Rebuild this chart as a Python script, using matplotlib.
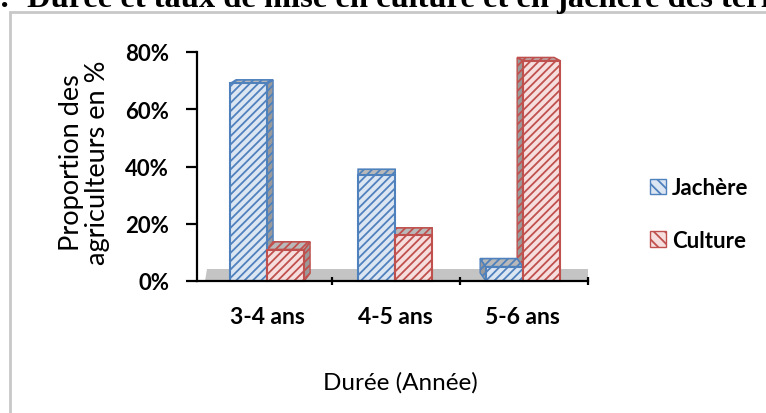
"""
plot.py — Durée de mise en culture / jachère (pseudo-3D clustered columns)
"""

import matplotlib.pyplot as plt
from matplotlib.patches import Polygon, Patch, Rectangle
import matplotlib.ticker as mticker

# ── data ─────────────────────────────────────────────────────────────────────
categories = ["3-4 ans", "4-5 ans", "5-6 ans"]
series_names = ["Jachère", "Culture"]
jachere = [69, 37, 5]
culture = [11, 16, 77]

# ── style constants ──────────────────────────────────────────────────────────
BLUE_EDGE = "#4F81BD"
BLUE_FACE = "#DCE6F2"
RED_EDGE = "#C0504D"
RED_FACE = "#F5DEDD"
FLOOR = "#C4C4C4"
SIDE = "#9A9A9A"
FONT = "Lato"

plt.rcParams.update({
    "font.family": [FONT, "DejaVu Sans"],
    "hatch.linewidth": 1.3,
})

W, H = 766, 414
fig = plt.figure(figsize=(W / 100, H / 100), dpi=100)

# title (cut off at top of the image, as in the source)
title_kw = dict(family="Liberation Serif", fontweight="bold", fontsize=23.4, va="baseline")
fig.text(10 / W, 1 - 7 / H, "Figure 1 :", ha="right", **title_kw)
fig.text(27 / W, 1 - 7 / H, "Durée et taux de mise en culture et en jachère des terres",
         ha="left", **title_kw)

# chart frame
fig.add_artist(Rectangle((10 / W, -0.05), 1.0, 1 - 13 / H + 0.05,
                         transform=fig.transFigure, fill=False,
                         edgecolor="#C8C8C8", linewidth=2.0))

# axes in pixel layout
left, right, bottom, top = 197, 588, 282, 53
ax = fig.add_axes([left / W, 1 - bottom / H, (right - left) / W, (bottom - top) / H])
ax.set_xlim(-0.06, 3.0)
ax.set_ylim(0, 80)
ax.patch.set_visible(False)

px_x = (right - left) / 3.06     # pixels per x unit
px_y = (bottom - top) / 80       # pixels per %

# floor band
floor_h = 12 / px_y
ax.add_patch(Polygon([(0.0, 0), (3.0, 0), (3.0, floor_h), (0.02, floor_h)],
                     closed=True, facecolor=FLOOR, edgecolor="none", zorder=1,
                     clip_on=False))

bar_w = 37 / px_x


def draw_bar(x0, value, face, edge, center):
    # top face depth grows as the bar gets lower (viewer above)
    dy_px = 2.5 + 0.07 * (85 - value)
    dy = dy_px / px_y
    dx = -0.045 * (center - 1.5)   # side face: right for left group, left for right group
    side_x = x0 + bar_w if dx >= 0 else x0
    # side face
    if abs(dx) > 1e-6:
        ax.add_patch(Polygon([(side_x, 0), (side_x + dx, dy), (side_x + dx, value + dy),
                              (side_x, value)], closed=True, facecolor=SIDE,
                             edgecolor=edge, hatch="////", linewidth=1.0, zorder=2,
                             clip_on=False))
    # top face
    ax.add_patch(Polygon([(x0, value), (x0 + bar_w, value), (x0 + bar_w + dx, value + dy),
                          (x0 + dx, value + dy)], closed=True, facecolor="#B9B9B9",
                         edgecolor=edge, hatch="////", linewidth=1.2, zorder=3,
                         clip_on=False))
    # front face
    ax.bar(x0, value, width=bar_w, align="edge", facecolor=face, edgecolor=edge,
           hatch="////", linewidth=1.5, zorder=4, clip_on=False)


for i, cat in enumerate(categories):
    c = i + 0.49
    draw_bar(c - bar_w, jachere[i], BLUE_FACE, BLUE_EDGE, c)
    draw_bar(c, culture[i], RED_FACE, RED_EDGE, c)
    ax.text(c, -12.5, cat, ha="center", va="center", fontsize=16.5, fontweight="bold")

# axes styling
for s in ["top", "right"]:
    ax.spines[s].set_visible(False)
ax.spines["left"].set_linewidth(1.6)
ax.spines["bottom"].set_linewidth(1.6)
ax.spines["left"].set_zorder(6)
ax.spines["bottom"].set_zorder(6)
ax.set_yticks([0, 20, 40, 60, 80])
ax.yaxis.set_major_formatter(mticker.FuncFormatter(lambda v, p: f"{v:.0f}%"))
ax.tick_params(axis="y", length=8, width=1.6, labelsize=16, pad=12)
for lab in ax.get_yticklabels():
    lab.set_fontweight("bold")
ax.set_xticks([1, 2, 3])
ax.set_xticklabels([])
ax.tick_params(axis="x", length=6, width=1.6, direction="inout")

ax.set_ylabel("Proportion des\nagriculteurs en %", fontsize=19.5, linespacing=1.05)
ax.yaxis.label.set_va("center")
ax.yaxis.set_label_coords((85 - left) / (right - left), (bottom - 163) / (bottom - top))
ax.set_xlabel("Durée (Année)", fontsize=17.5)
ax.xaxis.label.set_va("center")
ax.xaxis.set_label_coords((400 - left) / (right - left), -(383 - bottom) / (bottom - top))

# legend
handles = [
    Patch(facecolor=BLUE_FACE, edgecolor=BLUE_EDGE, hatch="\\\\\\", label=series_names[0]),
    Patch(facecolor=RED_FACE, edgecolor=RED_EDGE, hatch="\\\\\\", label=series_names[1]),
]
fig.legend(handles=handles, loc="center left", bbox_to_anchor=(630 / W, 1 - 215 / H),
           frameon=False, handlelength=0.7, handleheight=0.7,
           handletextpad=0.3, labelspacing=1.4, prop={"weight": "bold", "size": 16})

fig.savefig("out.png", dpi=100)
